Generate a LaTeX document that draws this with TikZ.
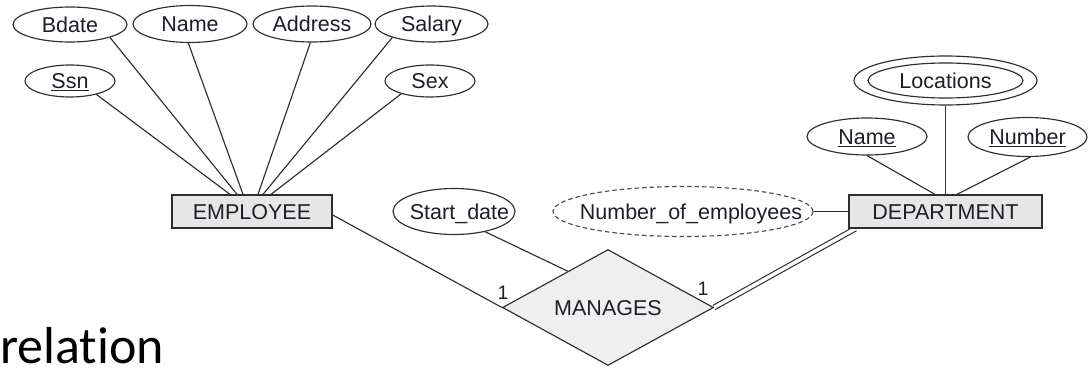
\documentclass[tikz,border=0pt]{standalone}
\usepackage{fontspec}
\setmainfont{Liberation Sans}
\newfontfamily\calibri[Ligatures={NoCommon}]{Carlito}
\usetikzlibrary{shapes.geometric,calc}
\definecolor{ink}{HTML}{2E2E2E}
\definecolor{txt}{HTML}{1E1E28}
\definecolor{entfill}{HTML}{E6E6E6}
\definecolor{relfill}{HTML}{EFEFEF}
\newcommand{\zw}[1]{\makebox[0pt][c]{#1}}
\pgfdeclarelayer{bg}
\pgfsetlayers{bg,main}

\begin{document}
\begin{tikzpicture}[x=1pt,y=-1pt,
  lbl/.style={font=\fontsize{21.5}{24}\selectfont, text=txt, text height=15.4pt, text depth=0pt},
  attr/.style={lbl, ellipse, draw=ink, line width=1.15pt, inner sep=0pt, fill=white},
  entity/.style={lbl, rectangle, draw=ink, line width=1.3pt, fill=entfill, minimum height=33pt, inner sep=0pt},
  rel/.style={lbl, diamond, draw=ink, line width=1.15pt, fill=relfill, inner sep=0pt},
  conn/.style={draw=ink, line width=1.15pt},
  card/.style={lbl, font=\fontsize{19.5}{21}\selectfont, text height=14pt, inner sep=0pt}
]
\useasboundingbox (0,0) rectangle (1090,369);

% entities and relationship
\node[entity, minimum width=160pt] (emp) at (252,211.5) {EMPLOYEE};
\node[entity, minimum width=193pt] (dept) at (945.5,211.5) {DEPARTMENT};
\node[rel, minimum width=211pt, minimum height=116pt] (man) at (608,307.5) {\zw{MANAGES}};

% EMPLOYEE attributes
\node[attr, minimum width=114pt, minimum height=35pt] (bdate) at (70,24.5) {\zw{Bdate}};
\node[attr, minimum width=114pt, minimum height=37pt] (ename) at (190,24) {\zw{Name}};
\node[attr, minimum width=118pt, minimum height=36pt] (addr) at (312,24) {\zw{Address}};
\node[attr, minimum width=113pt, minimum height=36pt] (sal) at (431.5,24) {\zw{Salary}};
\node[attr, minimum width=90pt, minimum height=32pt] (ssn) at (70,81) {\zw{\underline{Ssn}}};
\node[attr, minimum width=90pt, minimum height=32pt] (sex) at (430,81) {\zw{Sex}};

% relationship attribute
\node[attr, minimum width=122pt, minimum height=46pt] (sdate) at (454,211.5) {\zw{\hspace*{11pt}Start\_date}};

% DEPARTMENT attributes
\node[attr, minimum width=183pt, minimum height=49pt] (loc) at (945.5,80.5) {};
\node[attr, minimum width=155pt, minimum height=35pt] (locin) at (loc.center) {\zw{Locations}};
\node[attr, minimum width=120pt, minimum height=37pt] (dname) at (867,136.5) {\zw{\underline{Name}}};
\node[attr, minimum width=119pt, minimum height=39pt] (dnum) at (1027.5,137) {\zw{\underline{Number}}};
\node[attr, draw=ink!85, dash pattern=on 4.5pt off 3pt, minimum width=260pt, minimum height=50pt] (noe) at (683,211.5) {\zw{\hspace*{16pt}Number\_of\_employees}};

% cardinalities
\node[card] (c1) at (503,292) {1};
\node[card] (c2) at (703,288) {1};

\begin{pgfonlayer}{bg}
  \draw[conn] (ssn.-27) -- ([xshift=-22pt]emp.north);
  \draw[conn] (bdate.-18) -- ([xshift=-15pt]emp.north);
  \draw[conn] (ename.-95) -- ([xshift=-9pt]emp.north);
  \draw[conn] (addr.-95) -- ([xshift=6pt]emp.north);
  \draw[conn] (sal.-161) -- ([xshift=11pt]emp.north);
  \draw[conn] (sex.-156) -- ([xshift=19pt]emp.north);

  \draw[conn] (loc.south) -- (loc.south |- dept.north);
  \draw[conn] (dname.south) -- ([xshift=-10.5pt]dept.north);
  \draw[conn] (dnum.-82) -- ([xshift=11.5pt]dept.north);
  \draw[conn] (noe.east) -- (dept.west);

  \draw[conn] ([yshift=-3.5pt]emp.east) -- (man.west);
  \draw[conn] (sdate.-33) -- ($(man.west)!0.62!(man.north)$);
  \draw[conn, double=white, double distance=3.5pt] (man.east) -- ([xshift=7pt]dept.south west);
\end{pgfonlayer}

% caption fragment at the lower left
\node[font=\calibri\fontsize{52}{60}\selectfont, text=black, anchor=base west, inner sep=0pt] (cap) at (0,363) {relation};
\end{tikzpicture}
\end{document}
